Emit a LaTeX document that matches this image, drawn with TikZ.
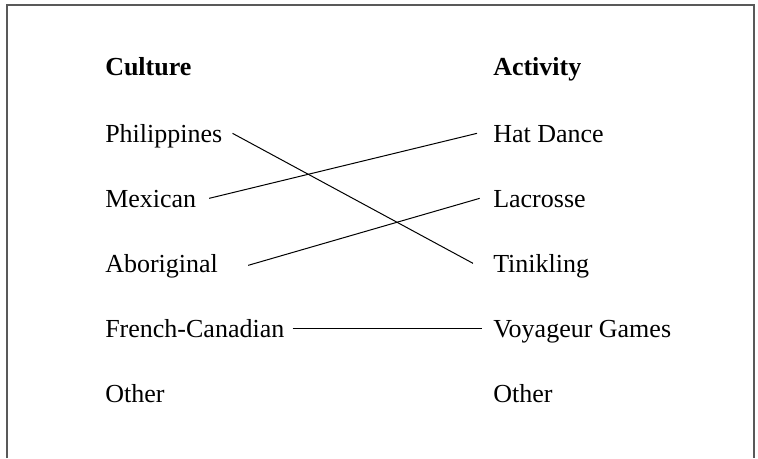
\documentclass[tikz,border=0pt]{standalone}
\usepackage{fontspec}
\setmainfont{Liberation Serif}
\usetikzlibrary{positioning}

\begin{document}
\begin{tikzpicture}[x=0.75pt,y=-0.75pt,
  every node/.style={anchor=base west,inner sep=0pt,text height=13pt,text depth=0pt,font=\fontsize{19.5}{23}\selectfont},
  head/.style={font=\fontsize{19.5}{23}\selectfont\bfseries},
  link/.style={line width=0.75pt}]
\useasboundingbox (0,0) rectangle (758,458);
\draw[line width=1.1pt,black!65](7,458)--(7,5)--(754,5)--(754,458);
\node[head](cult)at(105,75){Culture};
\node[head](act) at(493,75){Activity};
\node(phil) at(105,142){Philippines};
\node(mex)  at(105,207){Mexican};
\node(abor) at(105,272){Aboriginal};
\node(fren) at(105,337){French-Canadian};
\node(oth1) at(105,402){Other};
\node(hat)  at(493,142){Hat Dance};
\node(lac)  at(493,207){Lacrosse};
\node(tin)  at(493,272){Tinikling};
\node(voy)  at(493,337){Voyageur Games};
\node(oth2) at(493,402){Other};
\draw[link]([xshift=7.5pt]phil.east)--([xshift=-15pt]tin.west);
\draw[link]([xshift=9.5pt]mex.east)--([xshift=-12pt]hat.west);
\draw[link]([xshift=22.5pt,yshift=-1.5pt]abor.east)--([xshift=-10pt]lac.west);
\draw[link]([xshift=6pt]fren.east)--([xshift=-8pt]voy.west);
\end{tikzpicture}
\end{document}
